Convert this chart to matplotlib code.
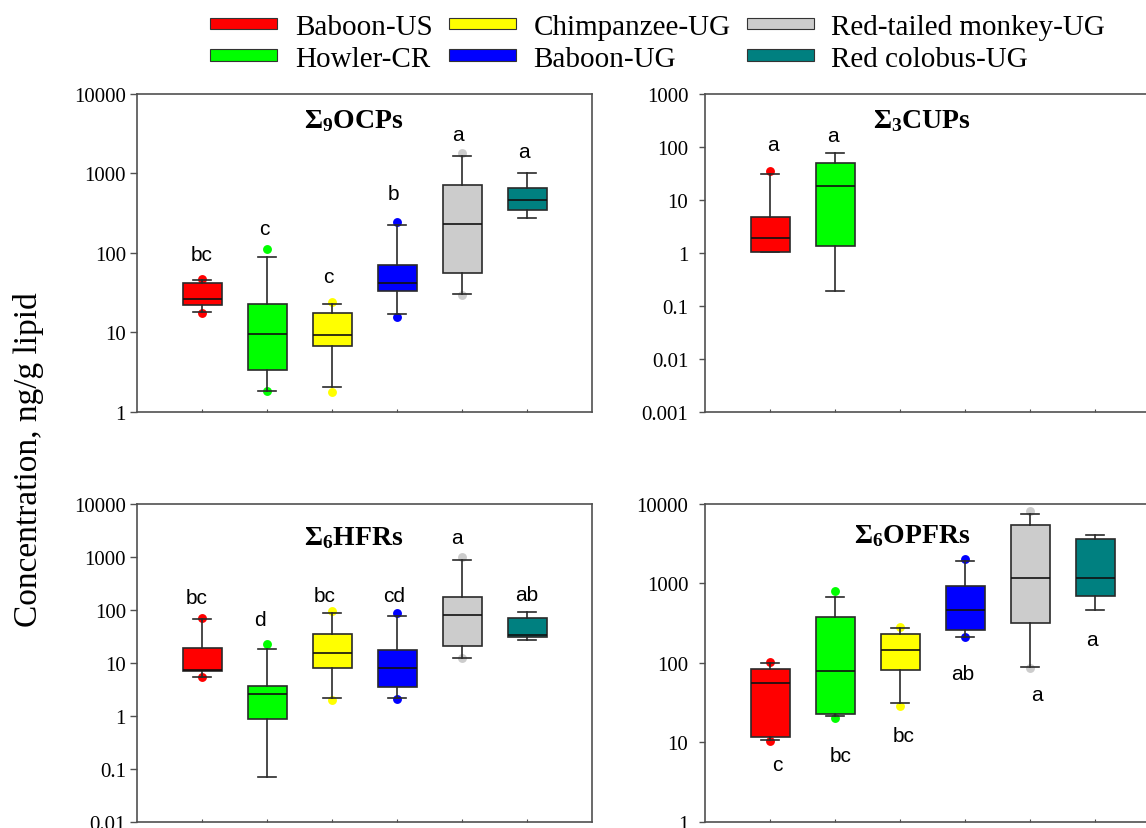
import matplotlib
matplotlib.use("Agg")
import matplotlib.pyplot as plt
from matplotlib.patches import Patch
from matplotlib.ticker import FixedLocator, FixedFormatter, NullLocator

plt.rcParams['mathtext.fontset'] = 'custom'
plt.rcParams['mathtext.rm'] = 'Liberation Serif'
plt.rcParams['mathtext.bf'] = 'Liberation Serif:bold'
plt.rcParams['mathtext.it'] = 'Liberation Serif:italic'

# ---------------- data ----------------
groups = ["Baboon-US", "Howler-CR", "Chimpanzee-UG", "Baboon-UG",
          "Red-tailed monkey-UG", "Red colobus-UG"]
colors = ["#FF0000", "#00FF00", "#FFFF00", "#0000FF", "#CCCCCC", "#008080"]

# OCPs
ocp_whislo = [17.8, 1.82, 2.06, 16.8, 30.0, 275]
ocp_q1 = [22.3, 3.35, 6.65, 32.7, 55.2, 343]
ocp_med = [26.5, 9.42, 9.15, 42.1, 233, 458]
ocp_q3 = [41.3, 22.9, 17.3, 71, 715, 662]
ocp_whishi = [46, 88.7, 22.7, 224, 1674, 1022]
ocp_low_pts = [17.5, 1.82, 1.79, 15.4, 29.7, None]
ocp_high_pts = [47, 111.7, 23.8, 242, 1824, None]
ocp_letters = ["bc", "c", "c", "b", "a", "a"]
ocp_letter_y = [95, 200, 51, 561, 3050, 1880]

# CUPs (two groups)
cup_whislo = [1.05, 0.193]
cup_q1 = [1.05, 1.34]
cup_med = [1.88, 18.0]
cup_q3 = [4.68, 50.5]
cup_whishi = [31.3, 78]
cup_low_pts = [None, None]
cup_high_pts = [34.6, None]
cup_letters = ["a", "a"]
cup_letter_y = [109, 168]

# HFRs
hfr_whislo = [5.47, 0.0706, 2.19, 2.13, 12.3, 27.0]
hfr_q1 = [6.90, 0.867, 7.98, 3.49, 20.5, 30.3]
hfr_med = [7.42, 2.57, 15.5, 7.98, 81.1, 34.0]
hfr_q3 = [19.3, 3.70, 34.5, 17.2, 175, 70.2]
hfr_whishi = [67.3, 18.0, 87.4, 77.7, 875, 92.5]
hfr_low_pts = [5.31, None, 1.95, 2.07, 12.1, None]
hfr_high_pts = [70.2, 22.3, 95.3, 86.1, 982, None]
hfr_letters = ["bc", "d", "bc", "cd", "a", "ab"]
hfr_letter_y = [173, 67, 191, 185, 2340, 199]

# OPFRs
opfr_whislo = [10.6, 21.6, 30.9, 213, 87.7, 462]
opfr_q1 = [11.6, 22.7, 82, 262, 314, 687]
opfr_med = [55.2, 78.2, 143.6, 458, 1170, 1181]
opfr_q3 = [83.6, 374, 228, 918, 5494, 3591]
opfr_whishi = [98.6, 681, 275, 1932, 7558, 4115]
opfr_low_pts = [10.4, 20.2, 28.6, 211, 85.3, None]
opfr_high_pts = [101.4, 803, 285, 2028, 8090, None]
opfr_letters = ["c", "bc", "bc", "ab", "a", "a"]
opfr_letter_y = [5.22, 6.91, 12.1, 74.5, 39.7, 199.6]

titles = [r"$\mathbf{\Sigma_{9}OCPs}$", r"$\mathbf{\Sigma_{3}CUPs}$",
          r"$\mathbf{\Sigma_{6}HFRs}$", r"$\mathbf{\Sigma_{6}OPFRs}$"]

ocp_ticks = ["1", "10", "100", "1000", "10000"]
cup_ticks = ["0.001", "0.01", "0.1", "1", "10", "100", "1000"]
hfr_ticks = ["0.01", "0.1", "1", "10", "100", "1000", "10000"]
opfr_ticks = ["1", "10", "100", "1000", "10000"]

ylabel = "Concentration, ng/g lipid"

# ---------------- figure ----------------
W, H = 1146, 829
fig = plt.figure(figsize=(W / 100, H / 100), dpi=100)

def fx(px):
    return px / W

def fy(py):
    return 1 - py / H

panel_boxes = [
    (137, 95, 592, 412.7),
    (705, 95, 1160, 412.7),
    (137, 505, 592, 822.7),
    (705, 505, 1160, 822.7),
]

panels = [
    (ocp_whislo, ocp_q1, ocp_med, ocp_q3, ocp_whishi, ocp_low_pts, ocp_high_pts,
     ocp_letters, ocp_letter_y, ocp_ticks),
    (cup_whislo, cup_q1, cup_med, cup_q3, cup_whishi, cup_low_pts, cup_high_pts,
     cup_letters, cup_letter_y, cup_ticks),
    (hfr_whislo, hfr_q1, hfr_med, hfr_q3, hfr_whishi, hfr_low_pts, hfr_high_pts,
     hfr_letters, hfr_letter_y, hfr_ticks),
    (opfr_whislo, opfr_q1, opfr_med, opfr_q3, opfr_whishi, opfr_low_pts, opfr_high_pts,
     opfr_letters, opfr_letter_y, opfr_ticks),
]

letter_dx = [
    [0, -0.04, -0.05, -0.06, -0.07, -0.04],
    [0.04, -0.03],
    [-0.08, -0.11, -0.11, -0.05, -0.08, 0],
    [0.11, 0.08, 0.05, -0.03, 0.1, -0.04],
]
title_x = [3.33, 3.34, 3.33, 3.19]
title_y = [0.897, 0.897, 0.874, 0.88]

line_col = "#2a2a2a"
spine_col = "#505050"

for i, (box, data) in enumerate(zip(panel_boxes, panels)):
    l, t, r, b = box
    ax = fig.add_axes([fx(l), fy(b), fx(r) - fx(l), fy(t) - fy(b)])
    wlo, q1, med, q3, whi, lo_pts, hi_pts, letters, letter_y, ticks = data
    n = len(med)
    stats = []
    for k in range(n):
        fl = [v for v in (lo_pts[k], hi_pts[k]) if v is not None]
        stats.append(dict(whislo=wlo[k], q1=q1[k], med=med[k], q3=q3[k],
                          whishi=whi[k], fliers=fl))
    positions = list(range(1, n + 1))
    res = ax.bxp(stats, positions=positions, widths=0.6, capwidths=0.27,
                 patch_artist=True, showfliers=True,
                 boxprops=dict(edgecolor=line_col, linewidth=1.2),
                 medianprops=dict(color="#111111", linewidth=1.2),
                 whiskerprops=dict(color=line_col, linewidth=1.2),
                 capprops=dict(color=line_col, linewidth=1.2),
                 flierprops=dict(marker="o", markersize=6.4, markeredgewidth=0,
                                 linestyle="none"))
    for k, patch in enumerate(res["boxes"]):
        patch.set_facecolor(colors[k])
        patch.set_zorder(2)
    for k, fl in enumerate(res["fliers"]):
        fl.set_markerfacecolor(colors[k])
        fl.set_markeredgecolor(colors[k])
        fl.set_zorder(1.5)
    for m in res["medians"]:
        m.set_zorder(3)
    for c in res["caps"]:
        c.set_zorder(2.5)

    ax.set_yscale("log")
    vals = [float(s) for s in ticks]
    ax.set_ylim(vals[0], vals[-1])
    ax.set_xlim(0, 7)
    ax.yaxis.set_major_locator(FixedLocator(vals))
    ax.yaxis.set_major_formatter(FixedFormatter(ticks))
    ax.yaxis.set_minor_locator(NullLocator())
    ax.set_xticks(range(1, 7))
    ax.set_xticklabels([])
    ax.tick_params(axis="x", direction="in", length=2.5, width=0.8,
                   color=spine_col, top=False)
    left_col = (i % 2 == 0)
    ax.tick_params(axis="y", direction="out", length=5 if left_col else 4,
                   width=1.0, color=spine_col,
                   pad=3 if left_col else 8, labelsize=15)
    for lab in ax.get_yticklabels():
        lab.set_family("Liberation Serif")
    for sp in ax.spines.values():
        sp.set_color(spine_col)
        sp.set_linewidth(1.2)

    for k in range(n):
        ax.text(positions[k] + letter_dx[i][k], letter_y[k], letters[k],
                ha="center", va="center", fontsize=15,
                family="Liberation Sans", color="black")
    ax.text(title_x[i], title_y[i], titles[i], transform=ax.get_xaxis_transform(),
            ha="center", va="baseline", fontsize=20, color="black")

fig.text(0.0245, fy(460), ylabel, rotation=90, ha="center", va="center",
         fontsize=24, family="Liberation Serif")

handles = [Patch(facecolor=c, edgecolor="#333333", linewidth=0.8) for c in colors]
fig.legend(handles, groups, ncol=3, loc="upper left",
           bbox_to_anchor=(fx(210), fy(15)), frameon=False, borderaxespad=0,
           borderpad=0, handlelength=2.31, handleheight=0.25, handletextpad=0.6,
           columnspacing=0.55, labelspacing=0.2,
           prop=dict(family="Liberation Serif", size=21))

fig.savefig("out.png", dpi=100)
